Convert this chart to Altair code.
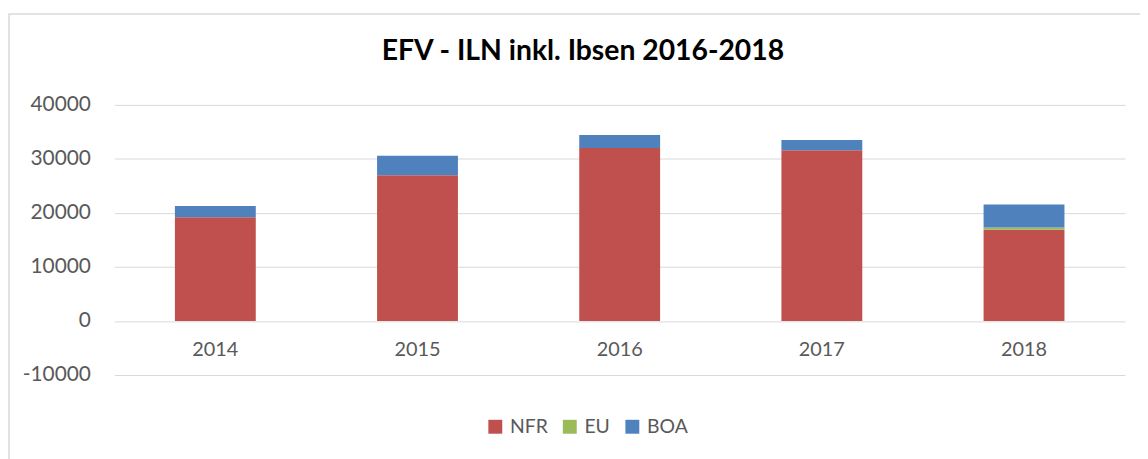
import altair as alt
import pandas as pd

years = ["2014", "2015", "2016", "2017", "2018"]
nfr = [19200, 27000, 32000, 31600, 16900]
eu = [0, 0, 0, 0, 400]
boa = [2100, 3600, 2450, 1900, 4250]

series = ["NFR", "EU", "BOA"]
colors = ["#c0504d", "#9bbb59", "#4f81bd"]

rows = []
for i, y in enumerate(years):
    for k, (name, vals) in enumerate(zip(series, [nfr, eu, boa])):
        rows.append({"year": y, "series": name, "value": vals[i], "order": k})
df = pd.DataFrame(rows)

font = "Lato"
grey = "#595959"

bars = alt.Chart(df).mark_bar().encode(
    x=alt.X("year:N", sort=years,
            scale=alt.Scale(paddingInner=0.6, paddingOuter=0.3),
            axis=alt.Axis(title=None, labelAngle=0, ticks=False, domain=False, grid=False,
                          offset=-54.4, labelPadding=19, labelFontSize=20,
                          labelColor=grey, labelFont=font)),
    y=alt.Y("value:Q", stack="zero",
            scale=alt.Scale(domain=[-10000, 40000], nice=False),
            axis=alt.Axis(title=None, values=[-10000, 0, 10000, 20000, 30000, 40000],
                          labelExpr="datum.value < 0 ? '-' + abs(datum.value) : '' + datum.value",
                          ticks=False, domain=False, labelPadding=24,
                          labelFontSize=21, labelColor=grey, labelFont=font,
                          gridColor="#d9d9d9", gridWidth=1)),
    color=alt.Color("series:N", sort=series,
                    scale=alt.Scale(domain=series, range=colors),
                    legend=alt.Legend(title=None, orient="none", direction="horizontal",
                                      legendX=374, legendY=314, symbolType="square",
                                      symbolSize=196, symbolStrokeWidth=0,
                                      labelFontSize=19.5, labelColor=grey, labelFont=font,
                                      columnPadding=12, labelOffset=5)),
    order=alt.Order("order:Q"),
)

border = alt.Chart(pd.DataFrame({"b": [0]})).mark_rect(
    fill=None, stroke="#d9d9d9", strokeWidth=1.5, clip=False
).encode(
    x=alt.value(-106), x2=alt.value(1100), y=alt.value(-91.5), y2=alt.value(400)
)

chart = alt.layer(border, bars).properties(
    width=1018, height=272,
    background="white",
    padding={"left": 107, "top": 96, "right": 15, "bottom": 83},
    autosize=alt.AutoSizeParams(type="none"),
    title=alt.TitleParams("EFV - ILN inkl. Ibsen 2016-2018", fontSize=28.5, font=font,
                          fontWeight="bold", color="#000000", anchor="middle",
                          dx=-37, offset=-53),
).configure_view(strokeWidth=0, stroke="transparent")

chart.save("out.html", embed_options={"renderer": "svg", "actions": False})
